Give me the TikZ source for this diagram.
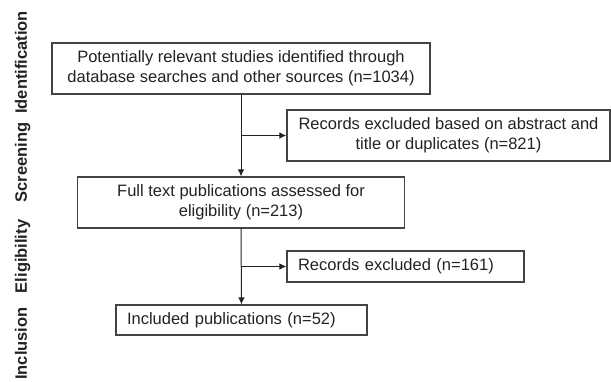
\documentclass[tikz,border=0pt]{standalone}
\usepackage{fontspec}
\setmainfont{Liberation Sans}
\usetikzlibrary{arrows.meta}
\definecolor{ink}{HTML}{222222}
\definecolor{edge}{HTML}{444444}
\tikzset{
  box/.style={draw=edge, line width=1.1pt, text=ink, align=center, inner sep=0pt,
    font=\fontsize{16.5}{20}\selectfont},
  leftbox/.style={draw=edge, line width=1.1pt, text=ink, align=left, inner xsep=11pt, inner ysep=0pt,
    font=\fontsize{16.5}{20}\selectfont},
  phase/.style={rotate=90, anchor=base, text=ink, font=\fontsize{16.5}{20}\selectfont\bfseries},
  flow/.style={draw=ink, line width=1pt, -{Latex[length=7pt,width=6.5pt]}}
}
\begin{document}
\begin{tikzpicture}[x=1pt,y=-1pt]
\useasboundingbox (0,0) rectangle (611,382);
% phase labels
\node[phase] (lid) at (27,62.5) {Identification};
\node[phase] (lsc) at (27,162.5) {Screening};
\node[phase] (lel) at (27,256.5) {Eligibility};
\node[phase] (lin) at (27,343.5) {Inclusion};
% boxes
\node[box, minimum width=378pt, minimum height=51pt] (b1) at (241,68.5)
  {Potentially relevant studies identified through\\database searches and other sources (n=1034)};
\node[box, minimum width=323pt, minimum height=51pt] (b2) at (448.5,135.5)
  {Records excluded based on abstract and\\title or duplicates (n=821)};
\node[box, minimum width=327pt, minimum height=51pt] (b3) at (241,202.5)
  {Full text publications assessed for\\eligibility (n=213)};
\node[leftbox, text width=215pt, minimum height=31pt] (b4) at (405.5,266.5)
  {Records excluded (n=161)};
\node[leftbox, text width=229pt, minimum height=30pt] (b5) at (241.5,320)
  {Included publications (n=52)};
% connectors
\coordinate (j1) at (b1.south |- b2.west);
\coordinate (j2) at (b3.south |- b4.west);
\draw[flow] (b1.south) -- (b3.north);
\draw[flow] (j1) -- (b2.west);
\draw[flow] (b3.south) -- (b5.north);
\draw[flow] (j2) -- (b4.west);
\end{tikzpicture}
\end{document}
